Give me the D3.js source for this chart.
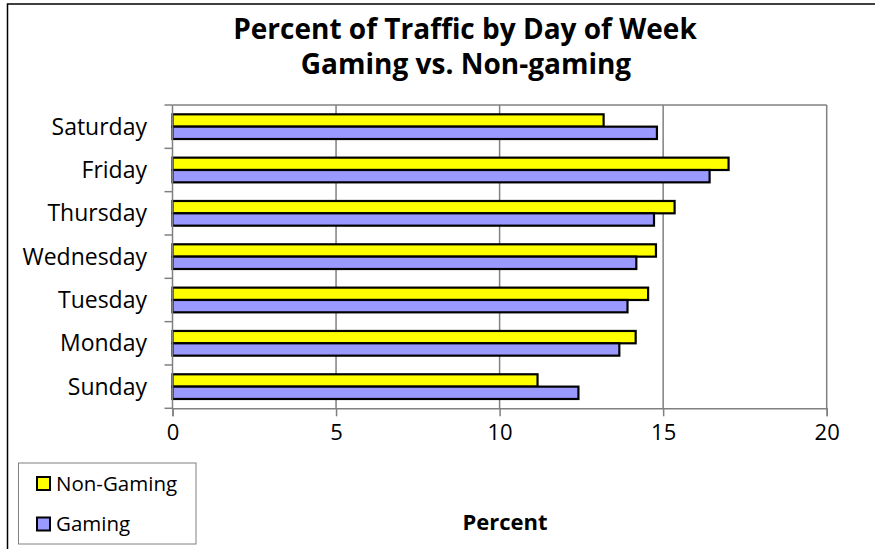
<!DOCTYPE html>
<html>
<head>
<meta charset="utf-8">
<script src="https://cdn.jsdelivr.net/npm/d3@7"></script>
<style>
  body { margin: 0; background: #fff; }
  svg { display: block; font-family: "Open Sans", sans-serif; }
</style>
</head>
<body>
<svg id="chart"></svg>
<script>
// data
var days = ["Sunday", "Monday", "Tuesday", "Wednesday", "Thursday", "Friday", "Saturday"];
var nonGaming = [11.16, 14.16, 14.54, 14.78, 15.35, 17.0, 13.18];
var gaming = [12.41, 13.66, 13.91, 14.18, 14.72, 16.42, 14.81];
var seriesNames = ["Non-Gaming", "Gaming"];
var seriesColors = ["#ffff00", "#9999ff"];
var xTicks = [0, 5, 10, 15, 20];

var width = 875, height = 549;
var plot = { left: 172.5, right: 826.7, top: 105, bottom: 408.3 };

var svg = d3.select("#chart")
  .attr("width", width)
  .attr("height", height);

// outer chart border (only top and left visible in the picture)
svg.append("path")
  .attr("d", "M7.5," + height + "V4H" + width)
  .attr("fill", "none")
  .attr("stroke", "#000")
  .attr("stroke-width", 1.5);

// title
var title = svg.append("text")
  .attr("text-anchor", "middle")
  .attr("font-weight", "bold")
  .attr("font-size", 28);
title.append("tspan").attr("x", 465).attr("y", 38.5).text("Percent of Traffic by Day of Week");
title.append("tspan").attr("x", 466).attr("y", 74).text("Gaming vs. Non-gaming");

var x = d3.scaleLinear().domain([0, 20]).range([plot.left, plot.right]);

// top of the list is Saturday
var y = d3.scaleBand()
  .domain(days.slice().reverse())
  .range([plot.top, plot.bottom])
  .paddingInner(0.43)
  .paddingOuter(0.215);

var ySeries = d3.scaleBand()
  .domain(seriesNames)
  .range([0, y.bandwidth()]);

// gridlines
svg.append("g")
  .selectAll("line")
  .data(xTicks.slice(1))
  .join("line")
  .attr("x1", function(d) { return x(d); })
  .attr("x2", function(d) { return x(d); })
  .attr("y1", plot.top)
  .attr("y2", plot.bottom)
  .attr("stroke", "#808080")
  .attr("stroke-width", 1.5);

// plot area top border
svg.append("line")
  .attr("x1", plot.left).attr("x2", plot.right)
  .attr("y1", plot.top).attr("y2", plot.top)
  .attr("stroke", "#808080")
  .attr("stroke-width", 1.5);

// bars
var rows = days.map(function(d, i) {
  return { day: d, values: [nonGaming[i], gaming[i]] };
});

var groups = svg.append("g")
  .selectAll("g")
  .data(rows)
  .join("g")
  .attr("transform", function(d) { return "translate(0," + y(d.day) + ")"; });

groups.selectAll("rect")
  .data(function(d) {
    return d.values.map(function(v, j) { return { name: seriesNames[j], value: v, color: seriesColors[j] }; });
  })
  .join("rect")
  .attr("x", x(0))
  .attr("y", function(d) { return ySeries(d.name); })
  .attr("width", function(d) { return x(d.value) - x(0); })
  .attr("height", ySeries.bandwidth())
  .attr("fill", function(d) { return d.color; })
  .attr("stroke", "#000")
  .attr("stroke-width", 2.2);

// x axis
var xAxis = svg.append("g")
  .attr("transform", "translate(0," + plot.bottom + ")")
  .call(d3.axisBottom(x).tickValues(xTicks).tickSize(8).tickPadding(8));
xAxis.select(".domain").attr("stroke", "#808080").attr("stroke-width", 1.5);
xAxis.selectAll(".tick line").attr("stroke", "#808080").attr("stroke-width", 1.5);
xAxis.selectAll(".tick text")
  .attr("font-size", 22)
  .attr("font-family", "Open Sans, sans-serif")
  .attr("fill", "#000");

// y axis: ticks at category boundaries
var step = y.step();
var boundaries = d3.range(days.length + 1).map(function(i) { return plot.top + i * step; });
svg.append("line")
  .attr("x1", plot.left).attr("x2", plot.left)
  .attr("y1", plot.top).attr("y2", plot.bottom)
  .attr("stroke", "#808080")
  .attr("stroke-width", 1.5);
svg.append("g")
  .selectAll("line")
  .data(boundaries)
  .join("line")
  .attr("x1", plot.left - 8).attr("x2", plot.left)
  .attr("y1", function(d) { return d; })
  .attr("y2", function(d) { return d; })
  .attr("stroke", "#808080")
  .attr("stroke-width", 1.5);

svg.append("g")
  .selectAll("text")
  .data(days)
  .join("text")
  .attr("x", 147)
  .attr("y", function(d) { return y(d) + y.bandwidth() / 2; })
  .attr("dy", "0.35em")
  .attr("text-anchor", "end")
  .attr("font-size", 23)
  .text(function(d) { return d; });

// axis title
svg.append("text")
  .attr("x", 505)
  .attr("y", 530)
  .attr("text-anchor", "middle")
  .attr("font-weight", "bold")
  .attr("font-size", 22)
  .text("Percent");

// legend
var legend = svg.append("g");
legend.append("rect")
  .attr("x", 18.5).attr("y", 463)
  .attr("width", 177.5).attr("height", 81)
  .attr("fill", "#fff")
  .attr("stroke", "#808080")
  .attr("stroke-width", 1);

var items = legend.selectAll("g")
  .data(seriesNames)
  .join("g")
  .attr("transform", function(d, i) { return "translate(37," + (477 + i * 40.5) + ")"; });
items.append("rect")
  .attr("width", 13).attr("height", 13)
  .attr("fill", function(d, i) { return seriesColors[i]; })
  .attr("stroke", "#000")
  .attr("stroke-width", 2);
items.append("text")
  .attr("x", 19)
  .attr("y", 6.5)
  .attr("dy", "0.35em")
  .attr("font-size", 20.5)
  .text(function(d) { return d; });
</script>
</body>
</html>
